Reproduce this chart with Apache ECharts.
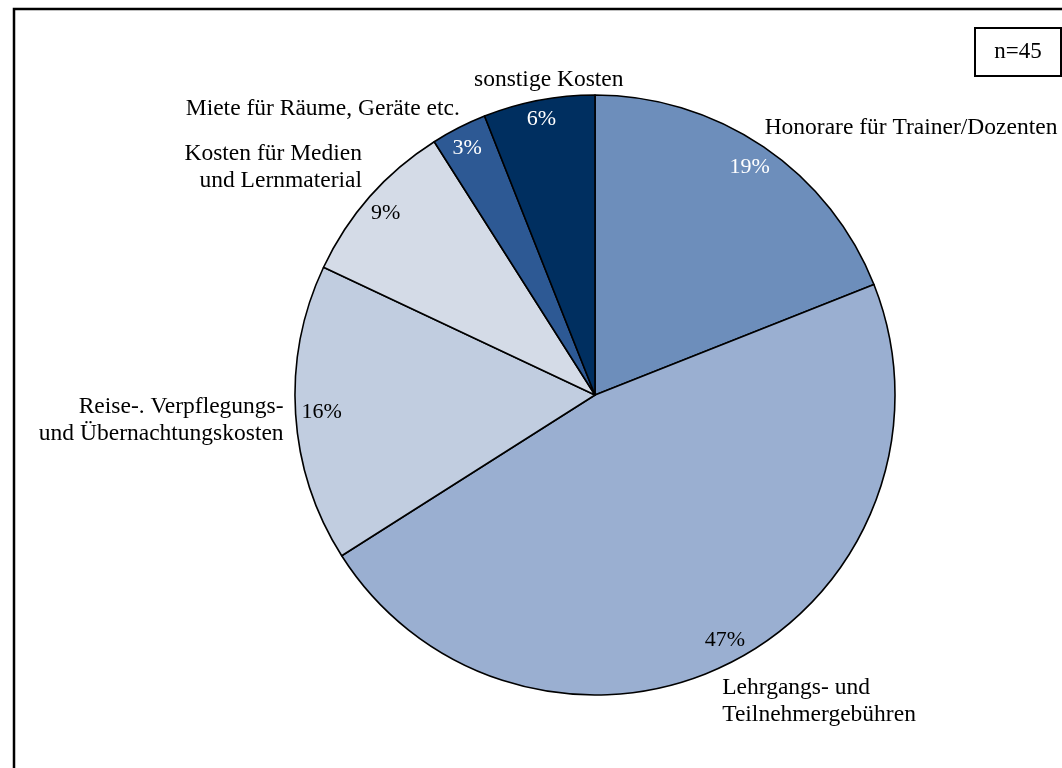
<!DOCTYPE html>
<html><head><meta charset="utf-8">
<script src="https://cdn.jsdelivr.net/npm/echarts@6/dist/echarts.min.js"></script>
<style>html,body{margin:0;padding:0;background:#fff;} #c{width:1062px;height:768px;}</style>
</head><body><div id="c"></div>
<script>
const categories = ['Honorare für Trainer/Dozenten', 'Lehrgangs- und\nTeilnehmergebühren', 'Reise-. Verpflegungs-\nund Übernachtungskosten', 'Kosten für Medien\nund Lernmaterial', 'Miete für Räume, Geräte etc.', 'sonstige Kosten'];
const values = [19, 47, 16, 9, 3, 6];
const sampleLabel = 'n=45';

const colors = ['#6d8ebb', '#9aafd1', '#c1cde0', '#d4dbe7', '#2d5994', '#002f60'];
const pctColors = ['#ffffff', '#000000', '#000000', '#000000', '#ffffff', '#ffffff'];
const nameOffsets = [[1, -19, null], [-9, 39, null], [-12, 6, null], [-8, -29, null], [1, -19, null], [10, -20, 'center']];
const pctOffsets = [[0, 0], [5, 0], [1, 0], [-3, 0], [-3, -2], [-2, -6]];
const FONT = '"Liberation Serif", "Times New Roman", serif';

const chart = echarts.init(document.getElementById('c'), null, {renderer: 'canvas'});
const center = [595, 395];
const R = 300;

const mainData = categories.map((n, i) => ({
  name: n, value: values[i],
  itemStyle: {color: colors[i]}
}));
const pctData = categories.map((n, i) => ({
  name: n, value: values[i],
  label: {color: pctColors[i]}
}));

chart.setOption({
  animation: false,
  backgroundColor: '#ffffff',
  graphic: [
    {type: 'rect', shape: {x: 14, y: 9, width: 1200, height: 900}, style: {fill: 'none', stroke: '#000', lineWidth: 2.5}, silent: true},
    {type: 'rect', shape: {x: 975, y: 28, width: 86, height: 48}, style: {fill: '#fff', stroke: '#000', lineWidth: 2}, silent: true},
    {type: 'text', x: 1018, y: 52, style: {text: sampleLabel, font: '23px ' + FONT, fill: '#000', align: 'center', verticalAlign: 'middle'}, silent: true}
  ],
  series: [
    {
      type: 'pie', center: center, radius: [0, R], startAngle: 90, clockwise: true,
      silent: true, avoidLabelOverlap: false,
      itemStyle: {borderColor: '#000', borderWidth: 1.6},
      label: {show: true, position: 'outside', formatter: '{b}', color: '#000', fontFamily: FONT, fontSize: 23.5, lineHeight: 27, distanceToLabelLine: 0},
      labelLine: {show: false, length: 0, length2: 0},
      labelLayout: function (p) {
        const o = nameOffsets[p.dataIndex];
        const r = {dx: o[0], dy: o[1]};
        if (o[2]) r.align = o[2];
        return r;
      },
      emphasis: {disabled: true},
      data: mainData
    },
    {
      type: 'pie', center: center, radius: [R * 0.813, R], startAngle: 90, clockwise: true,
      silent: true, avoidLabelOverlap: false,
      itemStyle: {color: 'rgba(0,0,0,0)', borderWidth: 0},
      label: {show: true, position: 'inside', formatter: '{c}%', fontFamily: FONT, fontSize: 22},
      labelLine: {show: false},
      labelLayout: function (p) {
        const o = pctOffsets[p.dataIndex];
        return {dx: o[0], dy: o[1]};
      },
      emphasis: {disabled: true},
      data: pctData
    }
  ]
});
</script>
</body></html>
